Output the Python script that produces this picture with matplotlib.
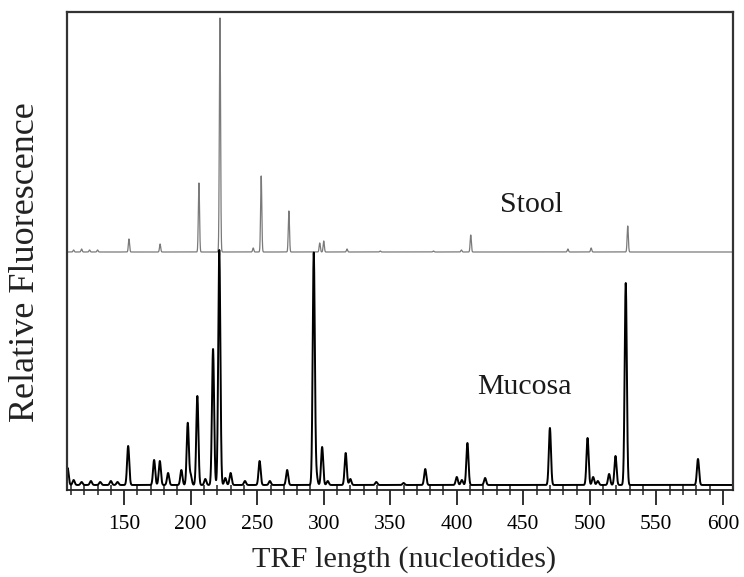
import matplotlib
matplotlib.use("Agg")
import matplotlib.pyplot as plt
from matplotlib.ticker import MultipleLocator
import numpy as np

plt.rcParams["font.family"] = ["Liberation Serif", "DejaVu Serif"]

# peaks: fragment length (nt) and height (rel. units)
stool_pos = [112, 118, 124, 130, 153.6, 177, 206.2, 222, 247, 253, 273.8,
             297, 300, 317.5, 342.5, 382.5, 403.5, 410.5, 483.5, 501, 528.5]
stool_height = [2, 3, 2, 2, 13, 8, 69, 234, 4, 76, 41,
                9, 11, 3, 1, 1, 2, 17, 3, 4, 26]

mucosa_pos = [107.5, 112, 118, 125, 132, 140, 145, 153, 172.5, 176.8, 183,
              193, 197.8, 200, 205, 211, 216.8, 221.5, 226, 230, 240.8,
              251.8, 259.5, 272.5, 292.5, 294.5, 298.8, 303, 316.5, 320,
              339.5, 360, 376.3, 400, 403.8, 408, 421.3, 470, 498.3, 502.5,
              506, 514.5, 519.3, 527, 581.3]
mucosa_height = [17, 5, 3, 4, 3, 4, 3, 39, 25, 24, 12,
                 15, 62, 10, 89, 6, 136, 235, 7, 12, 4,
                 24, 4, 15, 232, 10, 38, 4, 32, 6,
                 3, 2, 16, 8, 5, 42, 7, 57, 47, 8,
                 4, 11, 29, 202, 26]

stool_offset = 238
mucosa_offset = 5

x_ticks = [150, 200, 250, 300, 350, 400, 450, 500, 550, 600]


def trace(x, pos, height, width):
    y = np.zeros_like(x)
    for p, h in zip(pos, height):
        y += h * np.exp(-0.5 * ((x - p) / width) ** 2)
    return y


x = np.arange(107, 607.5, 0.05)
stool = stool_offset + trace(x, stool_pos, stool_height, 0.45)
mucosa = mucosa_offset + trace(x, mucosa_pos, mucosa_height, 0.8)

fig = plt.figure(figsize=(7.44, 5.77), dpi=100)
ax = fig.add_axes([0.090, 0.1508, 0.895, 0.8284])

ax.plot(x, stool, color="#7a7a7a", linewidth=0.9)
ax.plot(x, mucosa, color="black", linewidth=1.4)

ax.set_xlim(107, 607.5)
ax.set_ylim(0, 478)
ax.set_xticks(x_ticks)
ax.xaxis.set_minor_locator(MultipleLocator(10))
ax.set_yticks([])

for side in ["left", "top", "right"]:
    ax.spines[side].set_color("#333333")
    ax.spines[side].set_linewidth(1.6)
ax.spines["bottom"].set_color("#222222")
ax.spines["bottom"].set_linewidth(1.3)

ax.tick_params(axis="x", which="major", direction="out", length=11, width=1.3,
               pad=7, labelsize=15.5, color="#222222")
ax.tick_params(axis="x", which="minor", direction="inout", length=7, width=1.1,
               color="#222222")

ax.set_xlabel("TRF length (nucleotides)", fontsize=21.8, color="#222222")
ax.xaxis.set_label_coords(0.507, -0.118)
ax.set_ylabel("Relative Fluorescence", fontsize=26, color="#222222")
ax.yaxis.set_label_coords(-0.038, 0.477)

ax.text(456.5, 285, "Stool", fontsize=21.5, ha="center", va="center", color="#1a1a1a")
ax.text(451, 103, "Mucosa", fontsize=21.5, ha="center", va="center", color="#1a1a1a")

fig.savefig("out.png", dpi=100)
